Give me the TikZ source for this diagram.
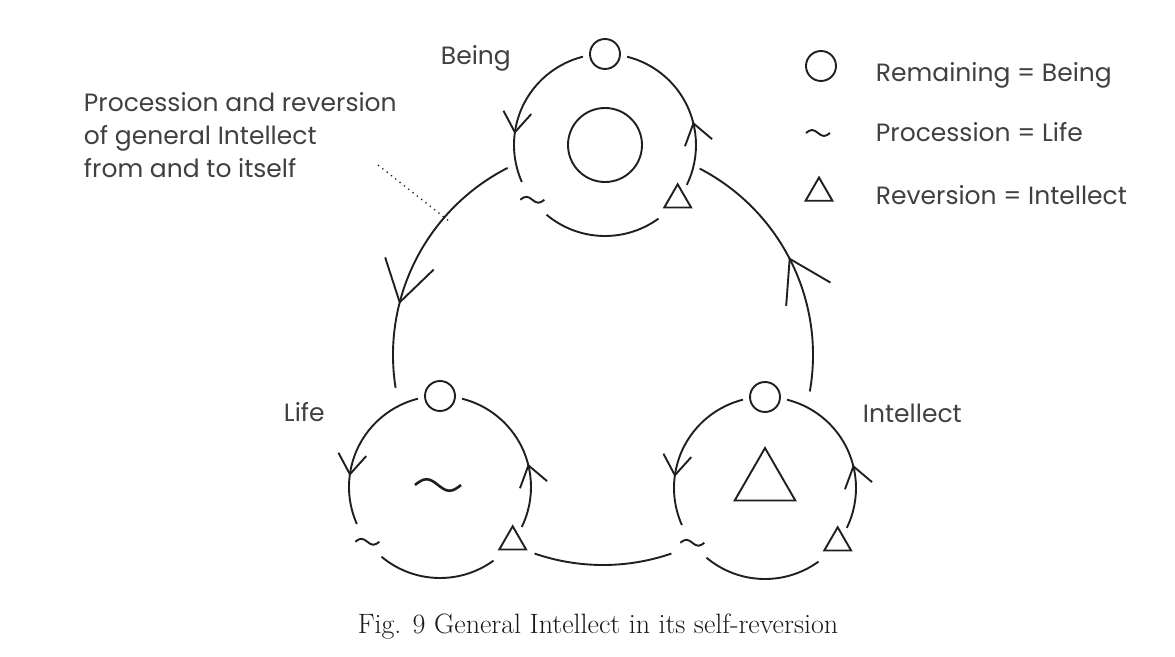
\documentclass[tikz,border=0pt]{standalone}
\usepackage{fontspec}
\newfontfamily\keyfont{Poppins}
\usetikzlibrary{arrows.meta,shapes.geometric,decorations.markings}
\tikzset{
  remain/.style={draw,circle,inner sep=0pt,minimum size=#1},remain/.default=30,
  revert/.style={draw,regular polygon,regular polygon sides=3,inner sep=0pt,minimum size=#1},revert/.default=31,
  proc/.style={inner sep=0pt,minimum width=#1+8,minimum height=20,path picture={\draw ([xshift=-#1/2]path picture bounding box.center) sin ++(#1/4,#1/8) cos ++(#1/4,-#1/8) sin ++(#1/4,-#1/8) cos ++(#1/4,#1/8);}},proc/.default=24,
  flow/.style={postaction={decorate},decoration={markings,mark=at position #1 with {\arrow{Straight Barb[length=20pt,width=28pt]}}}},
  bigflow/.style={postaction={decorate},decoration={markings,mark=at position #1 with {\arrow{Straight Barb[length=40pt,width=50pt]}}}},
  lbl/.style={font=\keyfont\fontsize{25}{33}\selectfont,text=black!75,inner sep=0pt,anchor=base west}
}
\begin{document}
\begin{tikzpicture}[x=1pt,y=1pt,line width=1.9pt,color=black!88]
\useasboundingbox (0,0) rectangle (1175,656);
\def\rr{91}
\coordinate (being) at (605,511);
\coordinate (life) at (440,169);
\coordinate (intel) at (765,168);
\coordinate (whole) at (603,301);
\foreach \c in {being,life,intel}{
  \node[remain] (\c-o) at ([shift={(90:\rr)}]\c) {};
  \node[proc] (\c-p) at ([shift={(217:\rr)}]\c) {};
  \node[revert] (\c-r) at ([shift={(323:\rr)}]\c) {};
  \draw[flow=0.69] ([shift={(104:\rr)}]\c) arc[start angle=104,end angle=204,radius=\rr];
  \draw ([shift={(230:\rr)}]\c) arc[start angle=230,end angle=306,radius=\rr];
  \draw[flow=0.4] ([shift={(334:\rr)}]\c) arc[start angle=334,end angle=436,radius=\rr];
}
\node[remain=74] (being-in) at (being) {};
\node[proc=46,line width=2.6pt] (life-in) at ([shift={(-2,2)}]life) {};
\node[revert=70] (intel-in) at ([yshift=5]intel) {};
\draw[bigflow=0.68] ([shift={(117:210)}]whole) arc[start angle=117,end angle=189,radius=210];
\draw ([shift={(251:210)}]whole) arc[start angle=251,end angle=289,radius=210];
\draw[bigflow=0.52] ([shift={(-10:210)}]whole) arc[start angle=-10,end angle=62.6,radius=210];
\node[lbl] (being-l) at (440,591) {Being};
\node[lbl] (life-l) at (283,234) {Life};
\node[lbl] (intel-l) at (862,233) {Intellect};
\node[lbl,align=left] (note) at (83,478) {Procession and reversion\\of general Intellect\\from and to itself};
\coordinate (lead) at (378,491); \coordinate (touch) at ([shift={(139:205)}]whole);
\draw[line width=1.3pt,dash pattern=on 1.3pt off 4.2pt] (lead) -- (touch);
\node[remain] (key-o) at (821,590) {};\node[lbl] (key-ot) at (875,574) {Remaining = Being};
\node[proc] (key-p) at (818,523) {};\node[lbl] (key-pt) at (875,514) {Procession = Life};
\node[revert] (key-r) at (819,463) {};\node[lbl] (key-rt) at (875,451) {Reversion = Intellect};
\node[font=\fontsize{28}{32}\selectfont,text=black!90,anchor=base] (caption) at (598,23) {Fig. 9 General Intellect in its self-reversion};
\end{tikzpicture}
\end{document}
